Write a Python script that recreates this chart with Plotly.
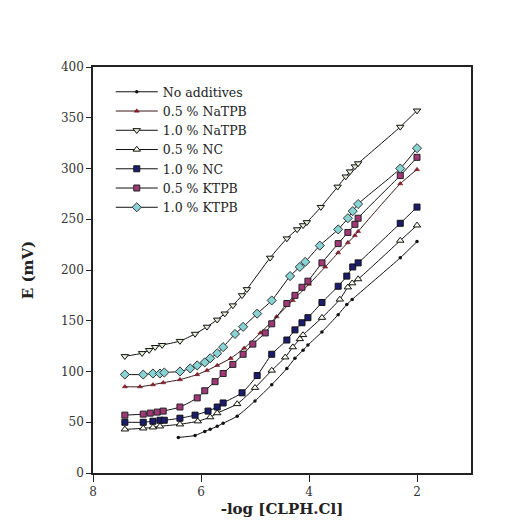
import plotly.graph_objects as go

names = ["No additives", "0.5 % NaTPB", "1.0 % NaTPB", "0.5 % NC", "1.0 % NC", "0.5 % KTPB", "1.0 % KTPB"]

x_none = [6.42, 6.11, 5.93, 5.83, 5.7, 5.59, 5.33, 5.0, 4.69, 4.41, 4.26, 4.11, 4.02, 3.76, 3.46, 3.3, 3.2, 2.31, 2.0]
y_none = [35, 37, 41, 43, 46, 49, 56, 71, 87, 103, 113, 121, 126, 139, 156, 166, 171, 212, 228]

x_natpb05 = [7.41, 7.13, 6.89, 6.7, 6.39, 6.07, 5.89, 5.7, 5.45, 5.2, 4.9, 4.6, 4.3, 4.0, 3.7, 3.46, 3.28, 3.15, 3.09, 2.31, 2.0]
y_natpb05 = [85, 85, 87, 89, 92, 97, 101, 106, 113, 123, 138, 154, 170, 186, 203, 217, 227, 234, 238, 285, 299]

x_natpb10 = [7.41, 7.09, 6.96, 6.85, 6.72, 6.39, 6.11, 5.89, 5.7, 5.56, 5.41, 5.24, 5.15, 4.72, 4.41, 4.22, 4.11, 4.04, 3.78, 3.47, 3.32, 3.24, 3.15, 3.09, 2.31, 2.0]
y_natpb10 = [115, 118, 121, 124, 126, 130, 137, 144, 151, 157, 165, 175, 181, 212, 231, 240, 244, 247, 262, 282, 292, 297, 302, 305, 341, 357]

x_nc05 = [7.41, 7.07, 6.89, 6.76, 6.39, 6.06, 5.83, 5.7, 5.33, 5.0, 4.69, 4.44, 4.3, 4.17, 4.11, 3.76, 3.43, 3.28, 3.2, 3.09, 2.31, 2.0]
y_nc05 = [43, 44, 45, 46, 48, 51, 55, 59, 68, 84, 101, 114, 124, 132, 136, 153, 171, 183, 187, 191, 229, 244]

x_nc10 = [7.41, 7.07, 6.89, 6.76, 6.68, 6.39, 6.11, 5.87, 5.7, 5.59, 5.24, 4.96, 4.69, 4.41, 4.26, 4.13, 4.02, 3.76, 3.46, 3.3, 3.19, 3.09, 2.31, 2.0]
y_nc10 = [50, 50, 51, 52, 52, 54, 57, 61, 65, 69, 79, 96, 117, 131, 141, 148, 153, 168, 184, 194, 203, 207, 246, 262]

x_ktpb05 = [7.41, 7.07, 6.94, 6.81, 6.7, 6.39, 6.07, 5.93, 5.74, 5.59, 5.41, 5.22, 5.04, 4.81, 4.69, 4.41, 4.26, 4.13, 4.02, 3.76, 3.46, 3.28, 3.15, 3.09, 2.31, 2.0]
y_ktpb05 = [57, 58, 59, 60, 61, 65, 74, 81, 90, 98, 107, 117, 127, 138, 147, 167, 175, 183, 189, 207, 226, 237, 245, 251, 293, 311]

x_ktpb10 = [7.41, 7.07, 6.89, 6.76, 6.68, 6.39, 6.2, 6.07, 5.93, 5.83, 5.7, 5.59, 5.37, 5.22, 4.96, 4.69, 4.35, 4.17, 4.07, 3.8, 3.46, 3.28, 3.19, 3.09, 2.31, 2.0]
y_ktpb10 = [97, 97, 98, 98, 99, 100, 103, 106, 109, 113, 118, 124, 137, 144, 157, 170, 194, 203, 208, 224, 240, 251, 258, 265, 300, 320]

x_ticks = [8, 6, 4, 2]
y_ticks = [0, 50, 100, 150, 200, 250, 300, 350, 400]

series = [
    (x_none, y_none, dict(symbol="circle", size=3.5, color="#111111", line=dict(width=0)), "#111111"),
    (x_natpb05, y_natpb05, dict(symbol="triangle-up", size=4.5, color="#8a1f2a", line=dict(width=0.5, color="#5a1018")), "#3a1a1a"),
    (x_natpb10, y_natpb10, dict(symbol="triangle-down", size=6.5, color="#e4eed8", line=dict(width=1, color="#111111")), "#111111"),
    (x_nc05, y_nc05, dict(symbol="triangle-up", size=6.5, color="#fbfbee", line=dict(width=1, color="#111111")), "#111111"),
    (x_nc10, y_nc10, dict(symbol="square", size=6, color="#1c1c6e", line=dict(width=1, color="#111111")), "#111111"),
    (x_ktpb05, y_ktpb05, dict(symbol="square", size=6, color="#a03878", line=dict(width=1, color="#222222")), "#111111"),
    (x_ktpb10, y_ktpb10, dict(symbol="diamond", size=7, color="#88d4d4", line=dict(width=1, color="#333333")), "#111111"),
]

fig = go.Figure()
for name, (xs, ys, mk, lc) in zip(names, series):
    fig.add_trace(go.Scatter(
        x=xs, y=ys, name=name, mode="lines+markers",
        line=dict(color=lc, width=1, shape="spline", smoothing=0.6),
        marker=mk,
    ))

serif = "DejaVu Serif, Liberation Serif, serif"
fig.update_layout(
    width=530, height=520,
    margin=dict(l=85, r=67, t=59, b=55),
    paper_bgcolor="white", plot_bgcolor="white",
    font=dict(family=serif, size=12, color="#222222"),
    showlegend=True,
    legend=dict(x=0.047, y=0.975, xanchor="left", yanchor="top",
                bgcolor="rgba(0,0,0,0)", font=dict(family=serif, size=12.5, color="#222222"),
                tracegroupgap=0, itemwidth=42),
    xaxis=dict(range=[8, 1], tickvals=x_ticks, ticktext=[str(v) for v in x_ticks],
               showgrid=False, zeroline=False, showline=True, linecolor="#222222", linewidth=1.5,
               mirror=True, ticks="outside", ticklen=7, tickcolor="#222222",
               tickfont=dict(family=serif, size=12, color="#333333"),
               title=dict(text="<b>-log [CLPH.Cl]</b>", font=dict(family=serif, size=15, color="#222222"), standoff=5)),
    yaxis=dict(range=[0, 400], tickvals=y_ticks, ticktext=[str(v) for v in y_ticks],
               showgrid=False, zeroline=False, showline=True, linecolor="#222222", linewidth=1.5,
               mirror=True, ticks="outside", ticklen=5, tickcolor="#222222",
               tickfont=dict(family=serif, size=12, color="#333333"),
               title=dict(text="<b>E (mV)</b>", font=dict(family=serif, size=15, color="#222222"), standoff=24)),
)

fig.write_html("out.html")
